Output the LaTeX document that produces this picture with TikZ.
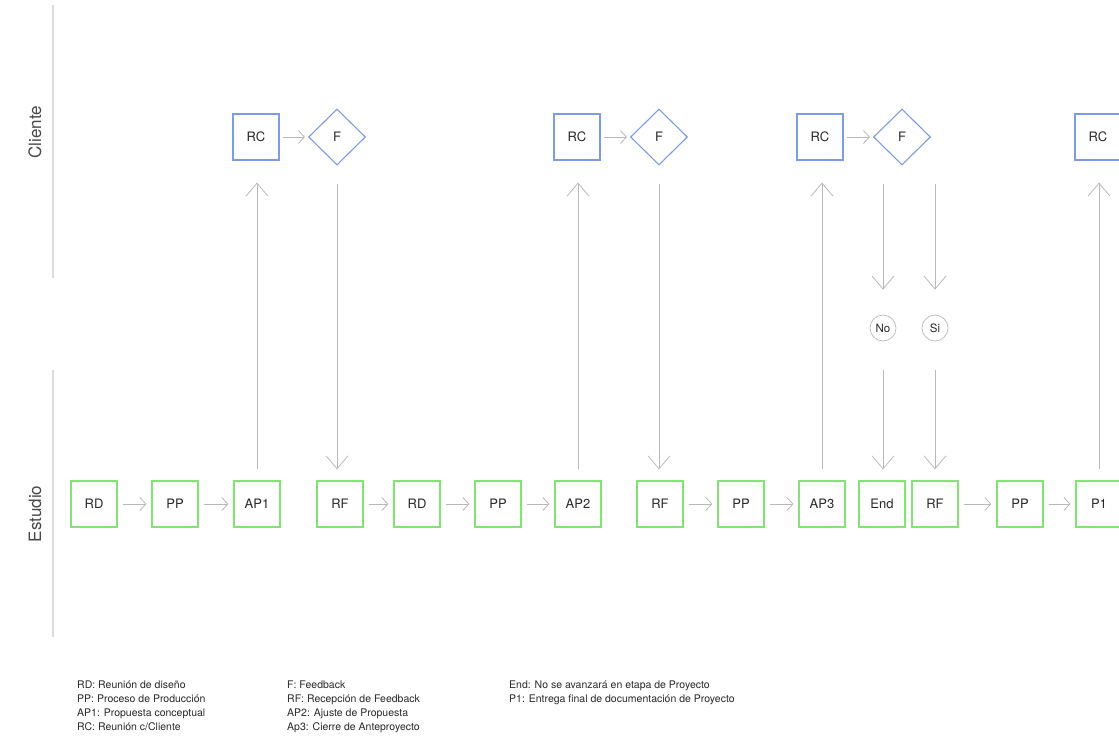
\documentclass[tikz,border=0pt]{standalone}
\usepackage{fontspec}
\setmainfont{TeX Gyre Heros}
\usetikzlibrary{shapes.geometric,arrows.meta}

\definecolor{stepgreen}{RGB}{130,228,115}
\definecolor{clientblue}{RGB}{125,155,230}
\definecolor{arrowgray}{RGB}{185,185,185}
\definecolor{lanegray}{RGB}{220,220,220}
\definecolor{textdark}{RGB}{40,40,40}

\tikzset{
  stepbox/.style={draw=stepgreen, line width=1.2pt, minimum size=46pt, inner sep=0pt,
    font=\fontsize{13}{15}\selectfont, text=textdark},
  meetbox/.style={draw=clientblue, line width=1.1pt, minimum size=46pt, inner sep=0pt,
    font=\fontsize{13}{15}\selectfont, text=textdark},
  fbdiamond/.style={diamond, draw=clientblue, line width=1.1pt, minimum width=57pt,
    minimum height=56pt, inner sep=0pt, font=\fontsize{13}{15}\selectfont, text=textdark},
  answer/.style={circle, draw=arrowgray, line width=0.7pt, minimum size=26pt, inner sep=0pt,
    font=\fontsize{11.5}{13}\selectfont, text=textdark},
  harrow/.style={draw=arrowgray, line width=0.8pt,
    -{Straight Barb[length=6pt, width=13pt, line width=0.8pt]}},
  varrow/.style={draw=arrowgray, line width=0.8pt,
    -{Straight Barb[length=13pt, width=22pt, line width=0.8pt]}},
  laneline/.style={draw=lanegray, line width=1.6pt},
  lanelabel/.style={rotate=90, font=\fontsize{17}{20}\selectfont, text=textdark!85},
  legend/.style={anchor=base west, inner sep=0pt, font=\fontsize{10.5}{12}\selectfont, text=textdark},
}

\begin{document}
\begin{tikzpicture}[x=1pt, y=-1pt]
\useasboundingbox (0,0) rectangle (1119,753);
\clip (0,0) rectangle (1119,753);

% swimlanes
\coordinate (cl-top) at (53,5);
\coordinate (cl-bot) at (53,278);
\coordinate (es-top) at (53,370);
\coordinate (es-bot) at (53,637);
\draw[laneline] (cl-top) -- (cl-bot);
\draw[laneline] (es-top) -- (es-bot);
\node[lanelabel] (lane-cliente) at (35,132) {Cliente};
\node[lanelabel] (lane-estudio) at (35,514) {Estudio};

% client lane
\node[meetbox] (rc1) at (256,137) {RC};
\node[fbdiamond] (f1) at (337,137) {F};
\node[meetbox] (rc2) at (577,137) {RC};
\node[fbdiamond] (f2) at (659,137) {F};
\node[meetbox] (rc3) at (820,137) {RC};
\node[fbdiamond] (f3) at (902,137) {F};
\node[meetbox] (rc4) at (1098,137) {RC};

\node[answer] (no) at (883,328) {No};
\node[answer] (si) at (935,328) {Si};

% studio lane
\node[stepbox] (rd1) at (94,504) {RD};
\node[stepbox] (pp1) at (175,504) {PP};
\node[stepbox] (ap1) at (257,504) {AP1};
\node[stepbox] (rf1) at (340,504) {RF};
\node[stepbox] (rd2) at (417,504) {RD};
\node[stepbox] (pp2) at (498,504) {PP};
\node[stepbox] (ap2) at (578,504) {AP2};
\node[stepbox] (rf2) at (660,504) {RF};
\node[stepbox] (pp3) at (741,504) {PP};
\node[stepbox] (ap3) at (822,504) {AP3};
\node[stepbox] (end) at (882,504) {End};
\node[stepbox] (rf3) at (935,504) {RF};
\node[stepbox] (pp4) at (1020,504) {PP};
\node[stepbox] (p1) at (1099,504) {P1};

% horizontal flow
\foreach \a/\b in {rd1/pp1, pp1/ap1, rf1/rd2, rd2/pp2, pp2/ap2, rf2/pp3, pp3/ap3, rf3/pp4, pp4/p1}
  \draw[harrow, shorten <=5pt, shorten >=5pt] (\a.east) -- (\b.west);
\foreach \a/\b in {rc1/f1, rc2/f2, rc3/f3}
  \draw[harrow, shorten <=3pt, shorten >=3pt] (\a.east) -- (\b.west);

% deliveries to the client
\foreach \a/\b in {ap1/rc1, ap2/rc2, ap3/rc3, p1/rc4}
  \draw[varrow, shorten <=11pt, shorten >=22pt] (\a.north) -- (\a.north |- \b.south);

% feedback back to the studio
\foreach \a/\b in {f1/rf1, f2/rf2}
  \draw[varrow, shorten <=18pt, shorten >=11pt] (\a.south) -- (\a.south |- \b.north);

% final decision
\draw[varrow, shorten <=18pt, shorten >=25pt] (f3.south -| no.north) -- (no.north);
\draw[varrow, shorten <=18pt, shorten >=25pt] (f3.south -| si.north) -- (si.north);
\draw[varrow, shorten <=29pt, shorten >=11pt] (no.south) -- (no.south |- end.north);
\draw[varrow, shorten <=29pt, shorten >=11pt] (si.south) -- (si.south |- rf3.north);

% legend
\node[legend] (lg1) at (77,688) {RD: Reunión de diseño};
\node[legend] (lg2) at (77,702) {PP: Proceso de Producción};
\node[legend] (lg3) at (77,716) {AP1: Propuesta conceptual};
\node[legend] (lg4) at (77,730) {RC: Reunión c/Cliente};
\node[legend] (lg5) at (287,688) {F: Feedback};
\node[legend] (lg6) at (287,702) {RF: Recepción de Feedback};
\node[legend] (lg7) at (287,716) {AP2: Ajuste de Propuesta};
\node[legend] (lg8) at (287,730) {Ap3: Cierre de Anteproyecto};
\node[legend] (lg9) at (509,688) {End: No se avanzará en etapa de Proyecto};
\node[legend] (lg10) at (509,702) {P1: Entrega final de documentación de Proyecto};
\end{tikzpicture}
\end{document}
